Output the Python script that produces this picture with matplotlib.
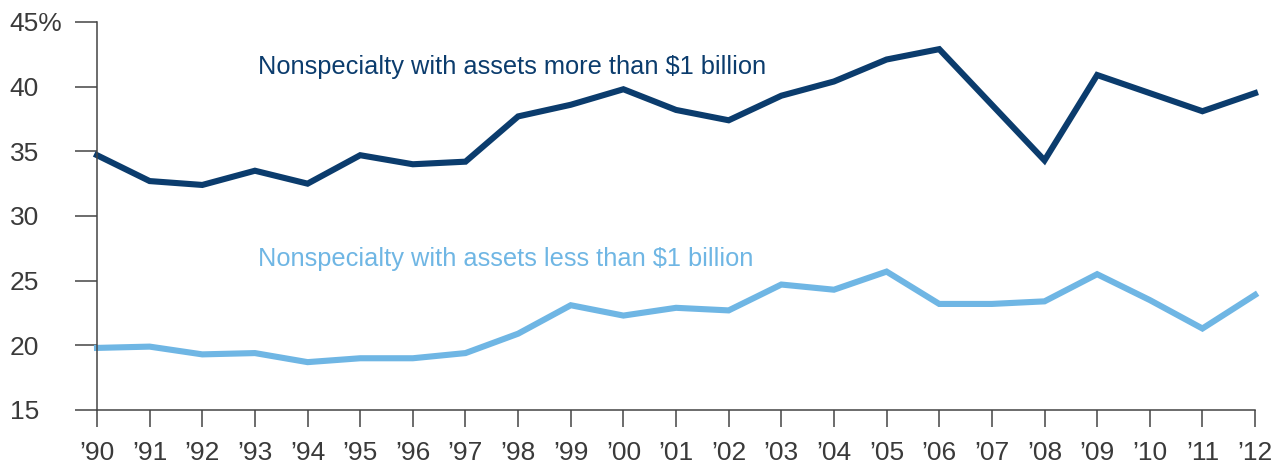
import matplotlib

matplotlib.use("Agg")
import matplotlib.pyplot as plt

plt.rcParams["font.family"] = ["Liberation Sans", "DejaVu Sans"]

years = list(range(1990, 2013))
year_labels = ["\u2019" + str(y)[2:] for y in years]

large_banks = [34.7, 32.7, 32.4, 33.5, 32.5, 34.7, 34.0, 34.2, 37.7, 38.6, 39.8,
               38.2, 37.4, 39.3, 40.4, 42.1, 42.9, 38.6, 34.3, 40.9, 39.5, 38.1, 39.5]
small_banks = [19.8, 19.9, 19.3, 19.4, 18.7, 19.0, 19.0, 19.4, 20.9, 23.1, 22.3,
               22.9, 22.7, 24.7, 24.3, 25.7, 23.2, 23.2, 23.4, 25.5, 23.5, 21.3, 23.9]

y_ticks = [15, 20, 25, 30, 35, 40, 45]
y_labels = ["15", "20", "25", "30", "35", "40", "45%"]

dark_blue = "#0b3c6d"
light_blue = "#6fb6e4"
axis_grey = "#444444"

fig = plt.figure(figsize=(12.85, 4.66), dpi=100)
ax = fig.add_axes([0.0755, 0.1202, 0.9012, 0.8326])

ax.plot(years, large_banks, color=dark_blue, linewidth=4.4, solid_joinstyle="miter",
        clip_on=False)
ax.plot(years, small_banks, color=light_blue, linewidth=4.4, solid_joinstyle="miter",
        clip_on=False)

ax.text(1993.06, 41.55, "Nonspecialty with assets more than $1 billion",
        color=dark_blue, fontsize=18.3, va="center", ha="left")
ax.text(1993.06, 26.7, "Nonspecialty with assets less than $1 billion",
        color=light_blue, fontsize=18.3, va="center", ha="left")

ax.set_xlim(1990, 2012)
ax.set_ylim(15, 45)
ax.set_xticks(years)
ax.set_xticklabels(year_labels)
ax.set_yticks(y_ticks)
ax.set_yticklabels(y_labels)

for side in ("top", "right"):
    ax.spines[side].set_visible(False)
for side in ("left", "bottom"):
    ax.spines[side].set_color(axis_grey)
    ax.spines[side].set_linewidth(1.1)

ax.tick_params(axis="y", direction="out", length=16, width=1.1, color=axis_grey,
               labelsize=19, labelcolor="#3a3a3a", pad=47)
ax.tick_params(axis="x", direction="out", length=12, width=1.1, color=axis_grey,
               labelsize=19, labelcolor="#3a3a3a", pad=10)
for lbl in ax.get_yticklabels():
    lbl.set_horizontalalignment("left")

fig.savefig("out.png", dpi=100)
